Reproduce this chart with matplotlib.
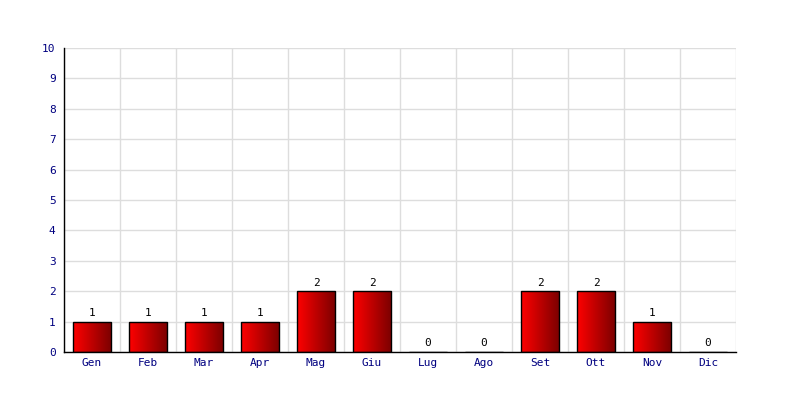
import numpy as np
import matplotlib
matplotlib.use("Agg")
import matplotlib.pyplot as plt
from matplotlib.colors import LinearSegmentedColormap

months = ["Gen", "Feb", "Mar", "Apr", "Mag", "Giu",
          "Lug", "Ago", "Set", "Ott", "Nov", "Dic"]
counts = [1, 1, 1, 1, 2, 2, 0, 0, 2, 2, 1, 0]
y_ticks = list(range(0, 11))

plt.rcParams["font.family"] = ["DejaVu Sans Mono"]

fig = plt.figure(figsize=(8, 4), dpi=100)
ax = fig.add_axes([0.08, 0.12, 0.84, 0.76])

x = np.arange(len(months))
bars = ax.bar(x, counts, width=0.68, facecolor="none",
              edgecolor="black", linewidth=1, zorder=4)

# horizontal red -> dark red gradient inside each bar
cmap = LinearSegmentedColormap.from_list("redgrad", ["#ff0000", "#7a0000"])
grad = np.linspace(0, 1, 256).reshape(1, -1)
for b in bars:
    if b.get_height() <= 0:
        continue
    x0, y0 = b.get_x(), b.get_y()
    im = ax.imshow(grad, cmap=cmap, aspect="auto", zorder=3,
                   extent=[x0, x0 + b.get_width(), y0, y0 + b.get_height()])
    im.set_clip_path(b)

for xi, v in zip(x, counts):
    ax.text(xi, v + 0.12, str(v), ha="center", va="bottom",
            fontsize=8, color="black", zorder=5)

ax.set_xlim(-0.5, len(months) - 0.5)
ax.set_ylim(0, 10)
ax.set_yticks(y_ticks)
ax.set_xticks(x)
ax.set_xticklabels(months)
ax.set_xticks(np.arange(-0.5, len(months), 1), minor=True)

ax.grid(axis="y", which="major", color="#dddddd", linewidth=1, zorder=0)
ax.grid(axis="x", which="minor", color="#dddddd", linewidth=1, zorder=0)
ax.grid(axis="x", which="major", visible=False)
ax.set_axisbelow(True)

ax.tick_params(axis="both", which="both", length=0, labelsize=8,
               labelcolor="#000080")
ax.tick_params(axis="x", pad=4)
ax.tick_params(axis="y", pad=6)

for side in ("top", "right"):
    ax.spines[side].set_visible(False)
for side in ("left", "bottom"):
    ax.spines[side].set_color("black")
    ax.spines[side].set_linewidth(1)
    ax.spines[side].set_zorder(6)

fig.savefig("out.png", dpi=100, facecolor="white")
